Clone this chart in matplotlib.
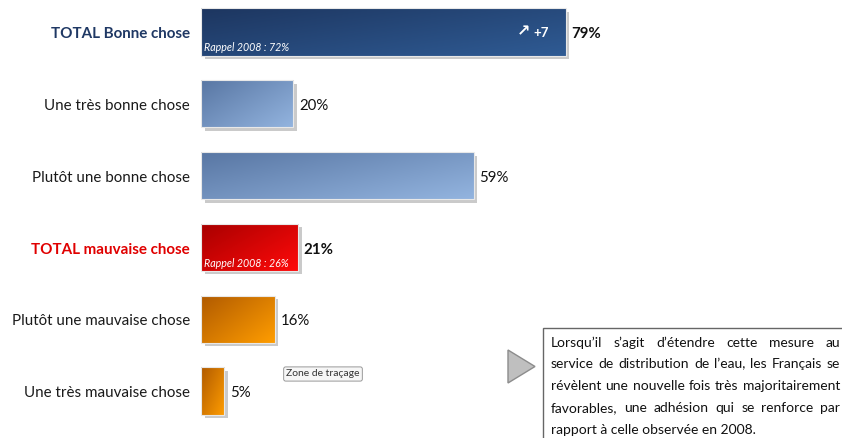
import matplotlib
matplotlib.use("Agg")
import matplotlib.pyplot as plt
import numpy as np
from matplotlib.colors import LinearSegmentedColormap
from matplotlib.patches import Rectangle, Polygon
from matplotlib.transforms import ScaledTranslation

categories = ["TOTAL Bonne chose", "Une très bonne chose", "Plutôt une bonne chose",
              "TOTAL mauvaise chose", "Plutôt une mauvaise chose", "Une très mauvaise chose"]
values = [79, 20, 59, 21, 16, 5]
value_labels = ["79%", "20%", "59%", "21%", "16%", "5%"]
recalls = {0: "Rappel 2008 : 72%", 3: "Rappel 2008 : 26%"}
evolution_arrow = {0: "↗"}
evolution_value = {0: "+7"}
note_lines = ["Lorsqu’il s’agit d’étendre cette mesure au",
              "service de distribution de l’eau, les Français se",
              "révèlent une nouvelle fois très majoritairement",
              "favorables, une adhésion qui se renforce par",
              "rapport à celle observée en 2008."]

FONT = "Lato"
W, H = 842, 438
fig = plt.figure(figsize=(W/100, H/100), dpi=100)
fig.patch.set_facecolor("white")

s = 71.8
top_px = 32 - 0.45*s
bot_px = 391 + 0.6*s
ax = fig.add_axes([201/W, (H-bot_px)/H, 462/W, (bot_px-top_px)/H])
ax.set_xlim(0, 100)
ax.set_ylim(5.6, -0.45)
ax.axis("off")

bar_h = 0.655
styles = [
    ("#1d3660", "#2f5b94", True, "#1f3864"),
    ("#5876a3", "#93b4df", False, "#1a1a1a"),
    ("#5876a3", "#93b4df", False, "#1a1a1a"),
    ("#a80000", "#ff0a0a", True, "#e00000"),
    ("#b05a00", "#ff9d00", False, "#1a1a1a"),
    ("#b05a00", "#ff9d00", False, "#1a1a1a"),
]

shadow_off = ScaledTranslation(3.5/100, -3.5/100, fig.dpi_scale_trans)
for i, (v, (c0, c1, bold, lcol)) in enumerate(zip(values, styles)):
    y0 = i - bar_h/2
    sh = Rectangle((0, y0), v, bar_h, facecolor="#cacaca", edgecolor="none",
                   transform=ax.transData + shadow_off, zorder=1)
    ax.add_patch(sh)
    rect = Rectangle((0, y0), v, bar_h, facecolor="none", edgecolor="#e8e8e8",
                     linewidth=0.8, zorder=3)
    ax.add_patch(rect)
    cmap = LinearSegmentedColormap.from_list("g%d" % i, [c0, c1])
    gx, gy = np.meshgrid(np.linspace(0, 1, 200), np.linspace(0, 1, 50))
    grad = 0.55*gx + 0.45*gy
    im = ax.imshow(grad, cmap=cmap, extent=[0, v, i + bar_h/2, i - bar_h/2],
                   aspect="auto", zorder=2, origin="upper", interpolation="bilinear")
    im.set_clip_path(rect)
    ax.text(-2.4, i + 0.03, categories[i], ha="right", va="center", fontsize=10.9,
            family=FONT, fontweight="bold" if bold else "normal",
            color=lcol if bold else "#1a1a1a")
    ax.text(v + 1.2, i + 0.03, value_labels[i], ha="left", va="center", fontsize=10.8,
            family=FONT, fontweight="bold" if bold else "normal", color="#111111")
    if i in recalls:
        ax.text(0.6, i + 0.22, recalls[i], ha="left", va="center", fontsize=7.7,
                family=FONT, style="italic", color="white", zorder=4)
    if i in evolution_arrow:
        ax.text(v - 3.7, i + 0.02, evolution_value[i], ha="right", va="center", fontsize=9.5,
                family=FONT, fontweight="bold", color="white", zorder=4)
        ax.text(v - 7.8, i + 0.0, evolution_arrow[i], ha="right", va="center", fontsize=11.5,
                family=["DejaVu Sans"], fontweight="bold", color="white", zorder=4)

fig.text(323/W, 1 - 374/H, "Zone de traçage", ha="center", va="center", fontsize=7.5,
         family=FONT, color="#333333",
         bbox=dict(boxstyle="round,pad=0.25,rounding_size=0.2", facecolor="#f6f6f6",
                   edgecolor="#9a9a9a", linewidth=0.7))

tri = Polygon([[508/W, 1-350/H], [508/W, 1-383/H], [535/W, 1-366.5/H]], closed=True,
              facecolor="#bfbfbf", edgecolor="#8c8c8c", linewidth=1.0,
              transform=fig.transFigure)
fig.add_artist(tri)

box = Rectangle((543/W, -0.05), 0.5, (1-328/H) + 0.05, transform=fig.transFigure,
                facecolor="white", edgecolor="#666666", linewidth=1.0)
fig.add_artist(box)

fig.canvas.draw()
renderer = fig.canvas.get_renderer()
left_px, right_px = 551, 840
line_y = [343, 364, 386, 408, 430]
note_fs = 10
for li, (line, yp) in enumerate(zip(note_lines, line_y)):
    words = line.split(" ")
    if li == len(note_lines) - 1:
        fig.text(left_px/W, 1 - yp/H, line, ha="left", va="center", fontsize=note_fs,
                 family=FONT, color="#111111")
        continue
    texts = [fig.text(0, 1 - yp/H, w, ha="left", va="center", fontsize=note_fs,
                      family=FONT, color="#111111") for w in words]
    widths = [t.get_window_extent(renderer).width for t in texts]
    gap = (right_px - left_px - sum(widths)) / (len(words) - 1)
    x = left_px
    for t, wd in zip(texts, widths):
        t.set_x(x / W)
        x += wd + gap

fig.savefig("out.png", dpi=100, facecolor="white")
